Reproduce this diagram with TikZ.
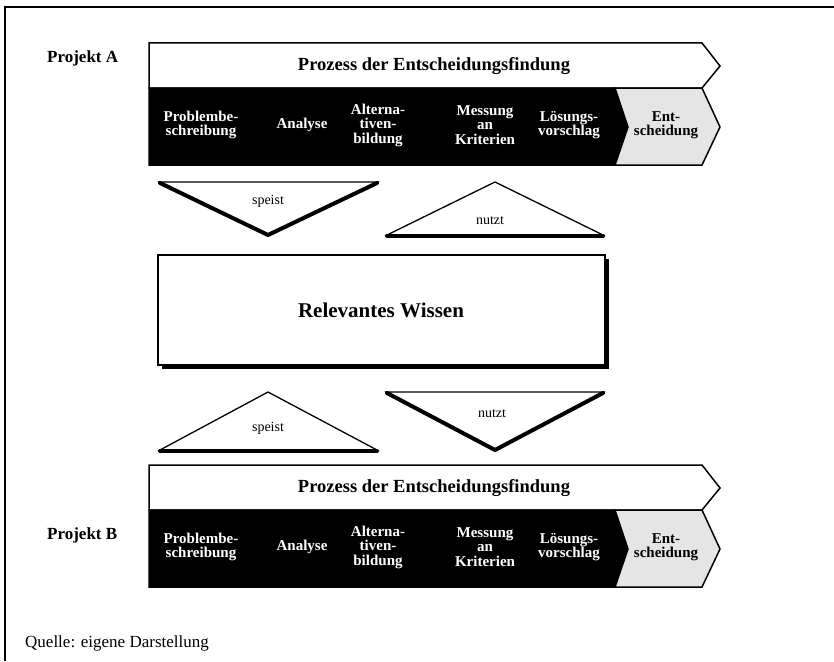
\documentclass[tikz,border=0pt]{standalone}
\usepackage{fontspec}
\setmainfont{Liberation Serif}
\begin{document}
\begin{tikzpicture}[x=1pt,y=-1pt,
  frameline/.style={line width=2pt},
  bandtxt/.style={font=\fontsize{15}{14.5}\selectfont\bfseries, align=center, text=white, inner sep=0pt},
  lighttxt/.style={font=\fontsize{15}{14.5}\selectfont\bfseries, align=center, text=black, inner sep=0pt},
  headtxt/.style={font=\fontsize{18.5}{20}\selectfont\bfseries, inner sep=0pt},
  projtxt/.style={font=\fontsize{17}{20}\selectfont\bfseries, inner sep=0pt, anchor=west},
  smalltxt/.style={font=\fontsize{14}{16}\selectfont, inner sep=0pt},
  thinedge/.style={line width=1.3pt, line join=miter},
  thickedge/.style={line width=4pt, line cap=round},
  procarrow/.pic={
    \path[fill=white, draw=black, line width=1.5pt, line join=miter]
      (0,0) -- (553,0) -- (571,23) -- (553,45) -- (0,45) -- cycle;
    \path[fill=black, draw=black, line width=1.5pt]
      (0,45) -- (466,45) -- (479,84) -- (466,122) -- (0,122) -- cycle;
    \path[fill=black!10, draw=black, line width=1.5pt]
      (466,45) -- (553,45) -- (571,84) -- (553,122) -- (466,122) -- (479,84) -- cycle;
    \node[headtxt] (-head) at (285,23) {Prozess der Entscheidungsfindung};
    \node[bandtxt] (-s1) at (52,82) {Problembe-\\schreibung};
    \node[bandtxt] (-s2) at (153,82) {Analyse};
    \node[bandtxt] (-s3) at (229,82) {Alterna-\\tiven-\\bildung};
    \node[bandtxt] (-s4) at (336,82) {Messung\\an\\Kriterien};
    \node[bandtxt] (-s5) at (420,82) {Lösungs-\\vorschlag};
    \node[lighttxt] (-s6) at (517,82) {Ent-\\scheidung};
  }]
\useasboundingbox (0,0) rectangle (834,661);
% frame
\draw[frameline] (5,661) -- (5,7) -- (834,7);

% process arrows
\pic (pa) at (149,43) {procarrow};
\pic (pb) at (149,465) {procarrow};
\node[projtxt] (projA) at (47,58) {Projekt A};
\node[projtxt] (projB) at (47,535) {Projekt B};

% upper triangles
\path[fill=white, draw=black, thinedge] (160,182) -- (377,182) -- (268,235) -- cycle;
\draw[thickedge] (160,183) -- (268,235) -- (377,183);
\node[smalltxt] (speistA) at (268,201) {speist};

\path[fill=white, draw=black, thinedge] (387,235) -- (495,182) -- (603,235) -- cycle;
\draw[thickedge] (387,236) -- (603,236);
\node[smalltxt] (nutztA) at (490,221) {nutzt};

% knowledge box
\fill[black] (162,259) rectangle (609,369);
\path[fill=white, draw=black, line width=1.5pt] (158,255) rectangle (605,365);
\node[font=\fontsize{21}{24}\selectfont\bfseries, inner sep=0pt] (wissen) at (381,310) {Relevantes Wissen};

% lower triangles
\path[fill=white, draw=black, thinedge] (160,450) -- (268,392) -- (377,450) -- cycle;
\draw[thickedge] (160,451) -- (377,451);
\node[smalltxt] (speistB) at (268,428) {speist};

\path[fill=white, draw=black, thinedge] (387,392) -- (603,392) -- (495,450) -- cycle;
\draw[thickedge] (387,393) -- (495,450) -- (603,393);
\node[smalltxt] (nutztB) at (492,414) {nutzt};

% source
\node[font=\fontsize{17}{20}\selectfont, inner sep=0pt, anchor=west] (quelle) at (25,643) {Quelle: eigene Darstellung};
\end{tikzpicture}
\end{document}
